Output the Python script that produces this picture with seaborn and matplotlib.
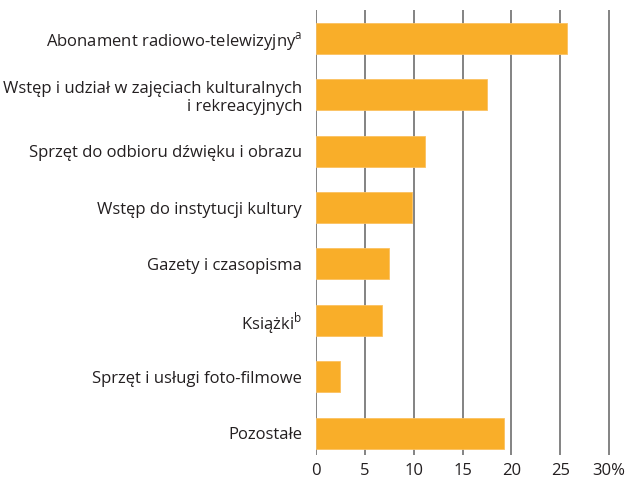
import matplotlib
matplotlib.use("Agg")
import matplotlib.pyplot as plt
import seaborn as sns
import pandas as pd

categories = [
    "Abonament radiowo-telewizyjny$^\\mathregular{a}$",
    "Wstęp i udział w zajęciach kulturalnych\ni rekreacyjnych",
    "Sprzęt do odbioru dźwięku i obrazu",
    "Wstęp do instytucji kultury",
    "Gazety i czasopisma",
    "Książki$^\\mathregular{b}$",
    "Sprzęt i usługi foto-filmowe",
    "Pozostałe",
]
values = [25.7, 17.5, 11.2, 9.8, 7.5, 6.75, 2.45, 19.25]
xticks = [0, 5, 10, 15, 20, 25, 30]
xtick_labels = ["0", "5", "10", "15", "20", "25", "30%"]

df = pd.DataFrame({"kategoria": categories, "udzial": values})

sns.set_style("white")
plt.rcParams["font.family"] = ["Open Sans", "DejaVu Sans"]
plt.rcParams["mathtext.fontset"] = "custom"

fig = plt.figure(figsize=(6.35, 4.78), dpi=100)
ax = fig.add_axes([0.4976, 0.048, 0.967 - 0.4976, 0.979 - 0.048])

sns.barplot(data=df, x="udzial", y="kategoria", orient="h", color="#F9AE29",
            saturation=1, width=0.55, edgecolor="#FBC160", linewidth=0.6, ax=ax, zorder=2)

ax.set_xlim(0, 30.5)
ax.set_ylim(7.39, -0.505)
ax.set_xticks(xticks)
ax.set_xticklabels(xtick_labels)
ax.grid(axis="x", color="#7a7a7a", linewidth=1.3, zorder=1)
ax.grid(axis="y", visible=False)
for s in ax.spines.values():
    s.set_visible(False)
ax.set_axisbelow(True)
ax.tick_params(axis="x", length=0, pad=6, labelsize=12, colors="#231f20")
ax.tick_params(axis="y", length=0, pad=10, labelsize=12, colors="#231f20")
ax.set_xlabel("")
ax.set_ylabel("")

fig.savefig("out.png", dpi=100)
